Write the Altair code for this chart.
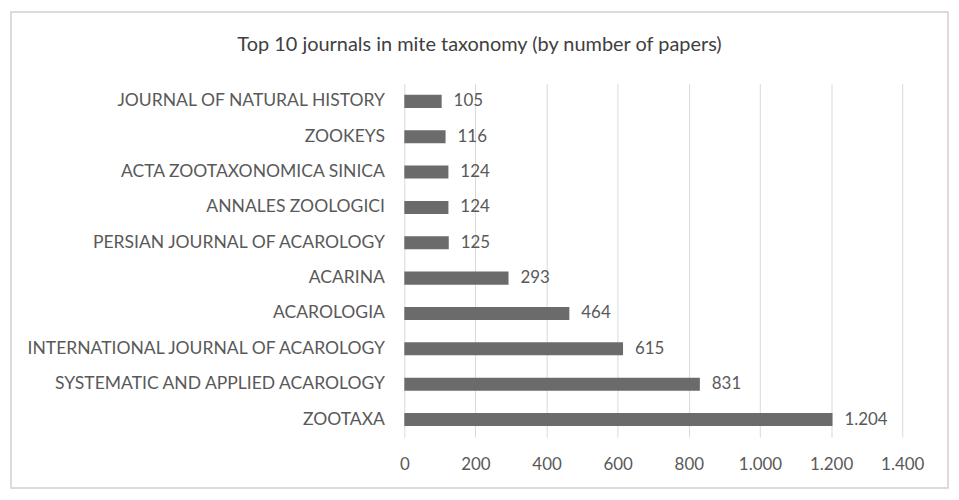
import altair as alt
import pandas as pd

journals = [
    "JOURNAL OF NATURAL HISTORY",
    "ZOOKEYS",
    "ACTA ZOOTAXONOMICA SINICA",
    "ANNALES ZOOLOGICI",
    "PERSIAN JOURNAL OF ACAROLOGY",
    "ACARINA",
    "ACAROLOGIA",
    "INTERNATIONAL JOURNAL OF ACAROLOGY",
    "SYSTEMATIC AND APPLIED ACAROLOGY",
    "ZOOTAXA",
]
papers = [105, 116, 124, 124, 125, 293, 464, 615, 831, 1204]
x_ticks = [0, 200, 400, 600, 800, 1000, 1200, 1400]

df = pd.DataFrame({"journal": journals, "papers": papers})

FONT = "Lato"
TXT = "#595959"
W, H = 500, 355

base = alt.Chart(df).transform_calculate(
    lbl="replace(format(datum.papers, ','), ',', '.')"
)

x_enc = alt.X(
    "papers:Q",
    scale=alt.Scale(domain=[0, 1400], nice=False),
    axis=alt.Axis(
        values=x_ticks,
        title=None,
        grid=True,
        gridColor="#d9d9d9",
        domain=False,
        ticks=False,
        labelFlush=False,
        labelOverlap=False,
        labelPadding=19,
        labelFontSize=17,
        labelColor=TXT,
        labelFont=FONT,
        labelExpr="replace(format(datum.value, ','), ',', '.')",
    ),
)
y_enc = alt.Y(
    "journal:N",
    sort=journals,
    scale=alt.Scale(paddingInner=0.63, paddingOuter=0.315),
    axis=alt.Axis(
        title=None,
        domain=False,
        ticks=False,
        labelPadding=20,
        labelFontSize=17.6,
        labelLimit=0,
        labelColor=TXT,
        labelFont=FONT,
    ),
)

bars = base.mark_bar(color="#6b6b6b").encode(x=x_enc, y=y_enc)

labels = base.mark_text(
    align="left", dx=12, fontSize=17, font=FONT, color=TXT
).encode(
    x=alt.X("papers:Q"),
    y=alt.Y("journal:N", sort=journals),
    text="lbl:N",
)

frame = alt.Chart(pd.DataFrame({"k": [0]})).mark_rect(
    fill=None, stroke="#d0d0d0", strokeWidth=1.5
).encode(
    x=alt.value(-395), x2=alt.value(546), y=alt.value(-72), y2=alt.value(406)
)

chart = (
    alt.layer(frame, bars, labels)
    .properties(
        width=W,
        height=H,
        padding={"left": 2, "top": 2, "right": 2, "bottom": 2},
        background="white",
        title=alt.TitleParams(
            "Top 10 journals in mite taxonomy (by number of papers)",
            anchor="middle",
            frame="bounds",
            fontSize=20,
            font=FONT,
            fontWeight="normal",
            color="#404040",
            offset=-44,
        ),
    )
    .configure_view(stroke=None)
)

chart.save("out.html", embed_options={"renderer": "svg", "actions": False})
